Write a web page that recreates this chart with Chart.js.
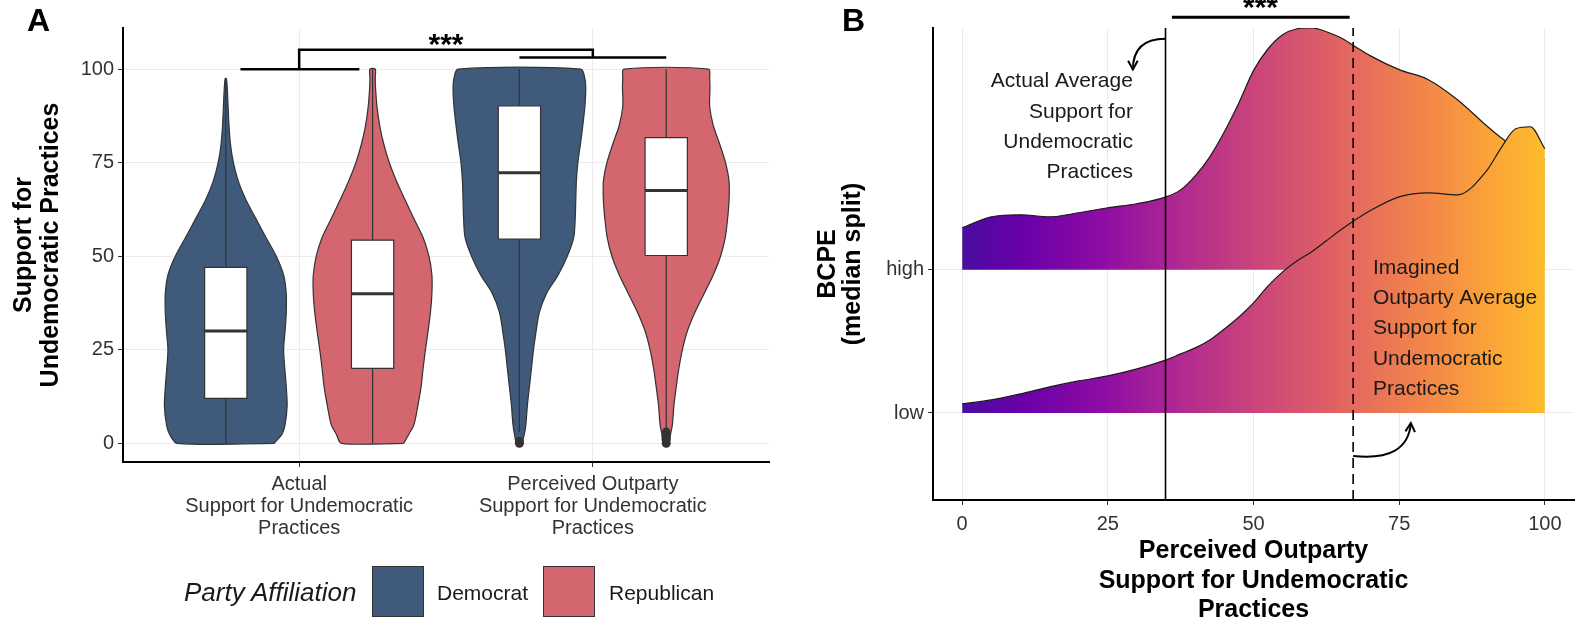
<!DOCTYPE html>
<html>
<head>
<meta charset="utf-8">
<script src="https://cdn.jsdelivr.net/npm/chart.js@4.4.1/dist/chart.umd.min.js"></script>
<style>
  html, body { margin: 0; padding: 0; background: #fff; }
  body { width: 1576px; height: 625px; position: relative; overflow: hidden;
         font-family: 'Liberation Sans', Arial, sans-serif; color: #1a1a1a; }
  canvas { position: absolute; top: 0; }
  #chartA { left: 0; }
  #chartB { left: 790px; }
  .tag { position: absolute; top: 4px; font-size: 32px; line-height: 32px; font-weight: bold; color: #000; }
  .legtxt { position: absolute; font-size: 21px; line-height: 24px; top: 581px; }
  .legbox { position: absolute; top: 566px; width: 50px; height: 49px; border: 1px solid #333; }
</style>
</head>
<body>
<canvas id="chartA" width="790" height="625"></canvas>
<canvas id="chartB" width="786" height="625"></canvas>
<div class="tag" style="left:27px">A</div>
<div class="tag" style="left:842px">B</div>
<div id="legend"></div>

<script>
// ---------- PANEL A data ----------
const categories = [
  ['Actual', 'Support for Undemocratic', 'Practices'],
  ['Perceived Outparty', 'Support for Undemocratic', 'Practices']
];
const parties = ['Democrat', 'Republican'];
const partyColors = ['#405a7b', '#d4666f'];
const yTicksA = [0, 25, 50, 75, 100];

// violin half widths (x units) at each support level
const violinY = [0, 2.5, 5, 10, 15, 20, 25, 30, 35, 40, 45, 50, 55, 60, 65, 70, 75, 80, 85, 90, 95, 97.5, 100];
const violinDemActual = [0.165, 0.192, 0.202, 0.209, 0.206, 0.201, 0.197, 0.202, 0.206, 0.206, 0.197, 0.172, 0.137, 0.103, 0.069, 0.043, 0.026, 0.016, 0.011, 0.008, 0.005, 0.002, null];
const violinRepActual = [0.106, 0.124, 0.141, 0.154, 0.165, 0.172, 0.180, 0.189, 0.197, 0.202, 0.202, 0.192, 0.172, 0.141, 0.111, 0.082, 0.057, 0.038, 0.024, 0.015, 0.010, 0.009, 0.009];
const violinDemPerceived = [0.009, 0.017, 0.022, 0.027, 0.034, 0.041, 0.048, 0.057, 0.068, 0.092, 0.132, 0.163, 0.185, 0.190, 0.192, 0.194, 0.199, 0.208, 0.216, 0.223, 0.226, 0.223, 0.209];
const violinRepPerceived = [0.010, 0.015, 0.021, 0.026, 0.034, 0.043, 0.055, 0.072, 0.098, 0.129, 0.160, 0.185, 0.201, 0.209, 0.214, 0.214, 0.202, 0.182, 0.160, 0.148, 0.149, 0.148, 0.144];

// box: [whisker low, q1, median, q3, whisker high]
const boxDemActual = [0, 12, 30, 47, 97.5];
const boxRepActual = [0, 20, 40, 54.3, 100];
const boxDemPerceived = [3, 54.6, 72.3, 90.2, 100];
const boxRepPerceived = [4, 50.2, 67.6, 81.7, 100];
const outliersDemPerceived = [0, 0.5];
const outliersRepPerceived = [0, 1, 2, 3];

// ---------- PANEL B data ----------
const bcpeLevels = ['low', 'high'];
const xTicksB = [0, 25, 50, 75, 100];
const ridgeX = [0, 5, 10, 15, 20, 25, 30, 35, 37.5, 40, 42.5, 45, 47.5, 50, 52.5, 55, 57.5, 60, 62.5, 65, 67.5, 70, 75, 80, 85, 90, 92.5, 95, 97.5, 100];
const densityHigh = [0.294, 0.371, 0.385, 0.371, 0.399, 0.434, 0.462, 0.510, 0.559, 0.657, 0.790, 0.965, 1.168, 1.392, 1.545, 1.643, 1.685, 1.692, 1.664, 1.622, 1.559, 1.497, 1.399, 1.329, 1.189, 1.007, 0.923, 0.853, 0.804, 0.769];
const densityLow = [0.063, 0.091, 0.133, 0.182, 0.224, 0.259, 0.308, 0.371, 0.413, 0.455, 0.510, 0.587, 0.671, 0.769, 0.888, 0.986, 1.063, 1.126, 1.203, 1.280, 1.350, 1.413, 1.510, 1.538, 1.524, 1.692, 1.853, 1.986, 2.000, 1.846];
const actualMean = 34.9;
const imaginedMean = 67.1;

// ---------- layout / style constants ----------
const dodge = [-0.25, 0.25];
const boxHalf = 0.072;
const yMinB = 0.392, yMaxB = 3.69;
const font = "'Liberation Sans', Arial, sans-serif";

// legend (html)
const legend = document.getElementById('legend');
legend.innerHTML =
  '<div style="position:absolute;left:184px;top:576px;font-size:26px;line-height:32px;font-style:italic">Party Affiliation</div>' +
  '<div class="legbox" style="left:372px;background:' + partyColors[0] + '"></div>' +
  '<div class="legtxt" style="left:437px">' + parties[0] + '</div>' +
  '<div class="legbox" style="left:543px;background:' + partyColors[1] + '"></div>' +
  '<div class="legtxt" style="left:609px">' + parties[1] + '</div>';

Chart.defaults.font.family = font;
Chart.defaults.color = '#333';

// ---------- PANEL A ----------
function violinPoints(center, widths) {
  const right = [], left = [];
  violinY.forEach((y, i) => {
    const w = widths[i];
    if (w == null) return;
    right.push({x: center + w, y: y});
    left.unshift({x: center - w, y: y});
  });
  return right.concat(left, [right[0]]);
}

const groups = [
  {cat: 1, party: 0, violin: violinDemActual, box: boxDemActual, out: []},
  {cat: 1, party: 1, violin: violinRepActual, box: boxRepActual, out: []},
  {cat: 2, party: 0, violin: violinDemPerceived, box: boxDemPerceived, out: outliersDemPerceived},
  {cat: 2, party: 1, violin: violinRepPerceived, box: boxRepPerceived, out: outliersRepPerceived}
];

const datasetsA = [];
groups.forEach(g => {
  const c = g.cat + dodge[g.party];
  const [lo, q1, med, q3, hi] = g.box;
  datasetsA.push({
    data: violinPoints(c, g.violin), fill: 'shape', backgroundColor: partyColors[g.party],
    borderColor: '#333', borderWidth: 1.2, tension: 0.3, order: 10
  });
  datasetsA.push({
    data: [{x: c, y: lo}, {x: c, y: hi}], borderColor: '#333', borderWidth: 1.2, order: 6
  });
  datasetsA.push({
    data: [{x: c - boxHalf, y: q1}, {x: c + boxHalf, y: q1}, {x: c + boxHalf, y: q3}, {x: c - boxHalf, y: q3}, {x: c - boxHalf, y: q1}],
    fill: 'shape', backgroundColor: '#fff', borderColor: '#333', borderWidth: 1.2, tension: 0, order: 5
  });
  datasetsA.push({
    data: [{x: c - boxHalf, y: med}, {x: c + boxHalf, y: med}], borderColor: '#333', borderWidth: 3, order: 4
  });
  if (g.out.length) {
    datasetsA.push({
      data: g.out.map(v => ({x: c, y: v})), showLine: false, pointRadius: 4.5,
      pointBackgroundColor: '#333', pointBorderWidth: 0, order: 3
    });
  }
});
// significance bracket
datasetsA.push({
  data: [{x: 0.8, y: 100}, {x: 1.205, y: 100}, {x: 1, y: 100}, {x: 1, y: 105.2}, {x: 2, y: 105.2},
         {x: 2, y: 103.1}, {x: 1.75, y: 103.1}, {x: 2.25, y: 103.1}],
  borderColor: '#000', borderWidth: 2.5, tension: 0, order: 1
});

const sigA = {
  id: 'sigA',
  afterDatasetsDraw(chart) {
    const {ctx, scales: {x, y}} = chart;
    ctx.save();
    ctx.font = 'bold 30px ' + font;
    ctx.fillStyle = '#000';
    ctx.textAlign = 'center';
    ctx.textBaseline = 'alphabetic';
    ctx.fillText('***', x.getPixelForValue(1.5), y.getPixelForValue(104.0));
    ctx.restore();
  }
};

new Chart(document.getElementById('chartA'), {
  type: 'line',
  data: {datasets: datasetsA},
  plugins: [sigA],
  options: {
    responsive: false, animation: false, events: [],
    layout: {padding: {left: 0, right: 21, top: 28, bottom: 0}},
    elements: {point: {radius: 0}},
    plugins: {legend: {display: false}, tooltip: {enabled: false}},
    scales: {
      x: {
        type: 'linear', min: 0.4, max: 2.6,
        afterBuildTicks: s => { s.ticks = [{value: 1}, {value: 2}]; },
        afterFit: s => { s.height = 163; },
        grid: {color: '#ebebeb', tickColor: '#333', tickLength: 5},
        border: {color: '#000', width: 2},
        ticks: {
          callback: v => categories[v - 1], maxRotation: 0, autoSkip: false,
          padding: 6, color: '#333', font: {size: 20, lineHeight: 1.1}
        }
      },
      y: {
        type: 'linear', min: -5, max: 111,
        afterBuildTicks: s => { s.ticks = yTicksA.map(v => ({value: v})); },
        afterFit: s => { s.width = 123; },
        grid: {color: '#ebebeb', tickColor: '#333', tickLength: 5},
        border: {color: '#000', width: 2},
        ticks: {padding: 4, color: '#333', font: {size: 20}},
        title: {
          display: true, text: ['Support for', 'Undemocratic Practices'], color: '#000',
          font: {size: 25, weight: 'bold', lineHeight: 1.06}, padding: {top: 11, bottom: 0}
        }
      }
    }
  }
});

// ---------- PANEL B ----------
const plasmaStops = [[0, '#4a0ca0'], [0.108, '#6a00a8'], [0.243, '#8f0da4'], [0.378, '#b12a90'],
  [0.514, '#cc4778'], [0.649, '#e16462'], [0.784, '#f2844b'], [0.919, '#fca636'], [1, '#fcbc2c']];

function ridgeFill(context) {
  const chart = context.chart;
  if (!chart.chartArea) return 'transparent';
  const xs = chart.scales.x;
  const g = chart.ctx.createLinearGradient(xs.getPixelForValue(0), 0, xs.getPixelForValue(100), 0);
  plasmaStops.forEach(([o, c]) => g.addColorStop(o, c));
  return g;
}

const datasetsB = [
  {data: [{x: actualMean, y: yMinB}, {x: actualMean, y: yMaxB}], borderColor: '#000', borderWidth: 1.6, order: 0},
  {data: [{x: imaginedMean, y: yMinB}, {x: imaginedMean, y: yMaxB}], borderColor: '#000', borderWidth: 1.6, borderDash: [10, 6], order: 0},
  {data: [{x: 36, y: 3.765}, {x: 66.5, y: 3.765}], borderColor: '#000', borderWidth: 3, clip: false, order: 0},
  {data: ridgeX.map((x, i) => ({x: x, y: 1 + densityLow[i]})), fill: {value: 1},
   backgroundColor: ridgeFill, borderColor: '#1a1a1a', borderWidth: 1.2, cubicInterpolationMode: 'monotone', order: 1},
  {data: ridgeX.map((x, i) => ({x: x, y: 2 + densityHigh[i]})), fill: {value: 2},
   backgroundColor: ridgeFill, borderColor: '#1a1a1a', borderWidth: 1.2, cubicInterpolationMode: 'monotone', order: 2}
];

const notesB = [
  {x: 29.3, y: 3.315, align: 'right', lines: ['Actual Average', 'Support for', 'Undemocratic', 'Practices']},
  {x: 70.5, y: 2.014, align: 'left', lines: ['Imagined', 'Outparty Average', 'Support for', 'Undemocratic', 'Practices']}
];
const arrowsB = [
  [[actualMean, 3.615], [29.3, 3.615], [29.3, 3.40]],
  [[imaginedMean, 0.70], [76.5, 0.66], [77.0, 0.93]]
];

const annB = {
  id: 'annB',
  afterDatasetsDraw(chart) {
    const {ctx, scales: {x, y}} = chart;
    ctx.save();
    ctx.fillStyle = '#1a1a1a';
    ctx.font = '21px ' + font;
    ctx.textBaseline = 'middle';
    notesB.forEach(n => {
      ctx.textAlign = n.align;
      const px = x.getPixelForValue(n.x), py = y.getPixelForValue(n.y);
      n.lines.forEach((t, i) => ctx.fillText(t, px, py + i * 30.3));
    });
    ctx.strokeStyle = '#000';
    ctx.lineWidth = 2;
    arrowsB.forEach(a => {
      const p = a.map(([vx, vy]) => [x.getPixelForValue(vx), y.getPixelForValue(vy)]);
      ctx.beginPath();
      ctx.moveTo(p[0][0], p[0][1]);
      ctx.quadraticCurveTo(p[1][0], p[1][1], p[2][0], p[2][1]);
      ctx.stroke();
      const ang = Math.atan2(p[2][1] - p[1][1], p[2][0] - p[1][0]);
      ctx.beginPath();
      ctx.moveTo(p[2][0] - 10 * Math.cos(ang - 0.5), p[2][1] - 10 * Math.sin(ang - 0.5));
      ctx.lineTo(p[2][0], p[2][1]);
      ctx.lineTo(p[2][0] - 10 * Math.cos(ang + 0.5), p[2][1] - 10 * Math.sin(ang + 0.5));
      ctx.stroke();
    });
    ctx.fillStyle = '#000';
    ctx.font = 'bold 30px ' + font;
    ctx.textAlign = 'center';
    ctx.textBaseline = 'alphabetic';
    ctx.fillText('***', x.getPixelForValue(51.2), y.getPixelForValue(3.765));
    ctx.restore();
  }
};

new Chart(document.getElementById('chartB'), {
  type: 'line',
  data: {datasets: datasetsB},
  plugins: [annB],
  options: {
    responsive: false, animation: false, events: [],
    layout: {padding: {left: 0, right: 2, top: 28, bottom: 0}},
    elements: {point: {radius: 0}},
    plugins: {legend: {display: false}, tooltip: {enabled: false}},
    scales: {
      x: {
        type: 'linear', min: -5, max: 105,
        afterBuildTicks: s => { s.ticks = xTicksB.map(v => ({value: v})); },
        afterFit: s => { s.height = 125; },
        grid: {color: '#ebebeb', tickColor: '#333', tickLength: 5},
        border: {color: '#000', width: 2},
        ticks: {padding: 8, color: '#333', font: {size: 20, lineHeight: 1.1}, maxRotation: 0},
        title: {
          display: true, text: ['Perceived Outparty', 'Support for Undemocratic', 'Practices'], color: '#000',
          font: {size: 25, weight: 'bold', lineHeight: 1.18}, padding: {top: 0, bottom: 0}
        }
      },
      y: {
        type: 'linear', min: yMinB, max: yMaxB,
        afterBuildTicks: s => { s.ticks = [{value: 1}, {value: 2}]; },
        afterFit: s => { s.width = 143; },
        grid: {color: '#ebebeb', tickColor: '#333', tickLength: 5},
        border: {color: '#000', width: 2},
        ticks: {callback: v => bcpeLevels[v - 1], padding: 4, color: '#333', font: {size: 20}},
        title: {
          display: true, text: ['BCPE', '(median split)'], color: '#000',
          font: {size: 25, weight: 'bold', lineHeight: 1.02}, padding: {top: 25, bottom: 0}
        }
      }
    }
  }
});
</script>
</body>
</html>
